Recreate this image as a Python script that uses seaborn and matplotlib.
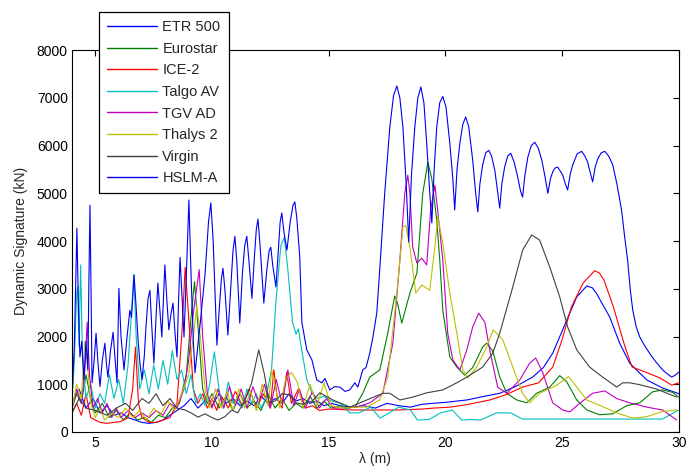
import matplotlib
matplotlib.use("Agg")
import matplotlib.pyplot as plt
from matplotlib.lines import Line2D
import pandas as pd
import seaborn as sns

sns.set_theme(style="white")
plt.rcParams["font.family"] = ["Liberation Sans", "DejaVu Sans"]

names = ["ETR 500", "Eurostar", "ICE-2", "Talgo AV", "TGV AD", "Thalys 2", "Virgin", "HSLM-A"]
colors = ["#0000ff", "#008000", "#ff0000", "#00bfbf", "#bf00bf", "#bfbf00", "#404040", "#0000ee"]
x_ticks = [5, 10, 15, 20, 25, 30]
y_ticks = [0, 1000, 2000, 3000, 4000, 5000, 6000, 7000, 8000]

etr_x = [4.0, 4.3, 4.6, 4.9, 5.2, 5.5, 5.8, 6.1, 6.4, 6.7, 7.0, 7.3, 7.6, 7.9, 8.2, 8.5, 8.8, 9.1, 9.4, 9.7,
         10.0, 10.3, 10.6, 10.9, 11.2, 11.5, 11.8, 12.1, 12.4, 12.7, 13.0, 13.3, 13.6, 13.9, 14.2, 14.5, 14.8,
         15.1, 15.5, 16.0, 16.5, 17.0, 17.5, 18.0, 18.5, 19.0, 19.46, 20.0, 20.92, 21.5, 22.33, 23.0, 23.74,
         24.2, 24.6, 25.2, 25.63, 26.06, 26.3, 26.48, 27.04, 27.47, 27.9, 28.63, 29.31, 29.91, 30.0]
etr_y = [600, 900, 500, 700, 400, 550, 350, 400, 300, 250, 200, 180, 200, 250, 350, 450, 550, 700, 500, 650,
         550, 800, 600, 700, 550, 650, 550, 750, 600, 700, 600, 800, 650, 700, 600, 650, 550,
         600, 550, 520, 550, 500, 600, 550, 520, 580, 600, 620, 670, 730, 810, 950, 1150,
         1350, 1650, 2340, 2830, 3060, 3020, 2900, 2410, 1860, 1440, 1090, 920, 820, 800]

euro_x = [4.0, 4.2, 4.4, 4.6, 4.8, 5.0, 5.3, 5.6, 5.9, 6.2, 6.5, 6.8, 7.1, 7.4, 7.7, 8.0, 8.3, 8.6, 8.9, 9.1,
          9.25, 9.4, 9.6, 9.8, 10.0, 10.3, 10.6, 10.9, 11.2, 11.5, 11.8, 12.1, 12.4, 12.7, 13.0, 13.3, 13.6,
          13.9, 14.2, 14.5, 14.8, 15.1, 15.5, 15.8, 16.12, 16.46, 16.76, 17.19, 17.53, 17.83, 17.95, 18.13,
          18.48, 18.78, 19.03, 19.25, 19.42, 19.63, 19.76, 19.89, 20.19, 20.49, 20.83, 21.17, 21.6, 21.77,
          22.03, 22.33, 22.63, 23.06, 23.49, 23.91, 24.47, 24.9, 25.2, 25.63, 26.06, 26.61, 27.17, 27.77,
          28.33, 28.88, 29.31, 29.74, 30.0]
euro_y = [500, 800, 600, 1200, 700, 400, 600, 300, 450, 250, 400, 250, 300, 200, 350, 300, 500, 600, 1200, 2400,
          3150, 2200, 900, 600, 800, 500, 750, 450, 800, 500, 650, 450, 800, 500, 700, 450, 600,
          500, 750, 500, 650, 500, 550, 500, 520, 810, 1150, 1300, 2070, 2850, 2700, 2280,
          2910, 3330, 5000, 5650, 5300, 4440, 3600, 2550, 1570, 1360, 1190, 1350, 1780, 1860,
          1700, 1150, 810, 670, 610, 810, 940, 1180, 1050, 670, 460, 360, 380, 550,
          610, 840, 880, 830, 730]

ice_x = [4.0, 4.2, 4.4, 4.6, 4.8, 5.0, 5.2, 5.5, 5.8, 6.1, 6.4, 6.6, 6.72, 6.85, 7.0, 7.3, 7.6, 7.9, 8.2, 8.5,
         8.7, 8.85, 9.0, 9.2, 9.4, 9.6, 9.8, 10.0, 10.2, 10.4, 10.7, 11.0, 11.3, 11.6, 11.9, 12.2, 12.5, 12.65,
         12.8, 13.0, 13.2, 13.4, 13.7, 14.0, 14.3, 14.6, 15.0, 15.5, 16.0, 17.0, 18.0, 19.0, 19.5, 20.2, 20.9,
         21.9, 22.6, 23.3, 24.0, 24.6, 25.0, 25.4, 25.9, 26.4, 26.6, 26.8, 27.2, 27.7, 28.0, 28.6, 29.2, 29.7, 30.0]
ice_y = [400, 600, 350, 800, 300, 250, 200, 180, 200, 220, 300, 900, 1780, 600, 300, 200, 200, 250, 300, 600,
         2000, 3450, 2400, 900, 600, 800, 500, 700, 450, 750, 500, 850, 550, 900, 500, 800, 500, 1300,
         700, 500, 1250, 600, 900, 500, 550, 450, 480, 470, 460, 460, 460, 480, 500, 520, 570,
         670, 780, 940, 1030, 1360, 1930, 2620, 3120, 3380, 3330, 3180, 2620, 1780, 1360, 1250, 1130, 980, 1030]

talgo_x = [4.0, 4.1, 4.2, 4.25, 4.3, 4.37, 4.45, 4.6, 4.8, 5.0, 5.2, 5.4, 5.6, 5.8, 6.0, 6.2, 6.4, 6.55, 6.65,
           6.75, 6.9, 7.1, 7.3, 7.5, 7.7, 7.9, 8.1, 8.3, 8.5, 8.7, 8.9, 9.1, 9.3, 9.5, 9.7, 9.9, 10.1, 10.3,
           10.5, 10.7, 10.9, 11.1, 11.3, 11.5, 11.7, 11.9, 12.1, 12.3, 12.55, 12.75, 12.95, 13.1, 13.25, 13.45,
           13.6, 13.7, 13.85, 14.06, 14.3, 14.55, 14.8, 15.1, 15.5, 15.9, 16.3, 16.8, 17.2, 17.6, 18.0, 18.5,
           18.8, 19.3, 19.8, 20.3, 20.7, 21.1, 21.5, 22.2, 22.8, 23.3, 24.0, 26.0, 28.0, 29.3, 30.0]
talgo_y = [600, 1500, 2900, 3050, 1800, 3500, 1500, 700, 1000, 500, 800, 600, 1200, 700, 1100, 600, 1400, 2500, 3300,
           2000, 900, 1300, 800, 1400, 900, 1500, 1000, 1700, 1100, 1300, 800, 1200, 600, 800, 550, 1000, 1680, 900,
           500, 1050, 600, 700, 500, 900, 600, 800, 500, 700, 1300, 2800, 3900, 4080, 3400, 2300,
           2050, 2160, 1700, 1100, 800, 700, 750, 650, 600, 400, 400, 520, 290, 400, 520, 460,
           250, 260, 400, 460, 250, 260, 250, 400, 400, 270, 270, 270, 270, 270, 460]

tgv_x = [4.0, 4.2, 4.4, 4.55, 4.65, 4.75, 4.9, 5.1, 5.3, 5.5, 5.7, 5.9, 6.1, 6.4, 6.7, 7.0, 7.3, 7.6, 7.9, 8.2,
         8.5, 8.8, 9.0, 9.2, 9.45, 9.6, 9.8, 10.0, 10.25, 10.5, 10.75, 11.0, 11.25, 11.5, 11.75, 12.0, 12.25,
         12.5, 12.75, 13.0, 13.25, 13.5, 13.75, 14.0, 14.3, 14.6, 14.9, 15.2, 15.6, 16.2, 16.76, 17.32, 17.75,
         18.05, 18.26, 18.39, 18.48, 18.6, 18.78, 18.99, 19.2, 19.37, 19.55, 19.67, 19.89, 20.1, 20.32, 20.62,
         20.92, 21.17, 21.43, 21.69, 21.9, 22.24, 22.63, 23.19, 23.61, 23.87, 24.17, 24.6, 25.03, 25.33, 25.76,
         26.31, 26.83, 27.34, 27.9, 28.63, 29.31, 29.91]
tgv_y = [500, 900, 600, 1300, 2300, 1200, 500, 700, 400, 600, 300, 500, 300, 450, 300, 400, 300, 450, 350, 600,
         500, 900, 1500, 2500, 3400, 2000, 800, 500, 900, 500, 950, 550, 900, 500, 950, 600, 1000,
         500, 1100, 600, 1300, 550, 900, 500, 850, 500, 700, 500, 500, 520, 610, 810, 1860,
         3600, 5000, 5380, 5000, 3870, 3540, 3640, 3500, 4650, 5170, 4650, 3600, 2070, 1510, 1300,
         1720, 2200, 2490, 2300, 1720, 940, 810, 1090, 1440, 1550, 1250, 610, 460, 420, 600,
         810, 860, 700, 610, 520, 460, 250]

thalys_x = [4.0, 4.2, 4.4, 4.55, 4.65, 4.8, 5.0, 5.2, 5.4, 5.7, 6.0, 6.3, 6.6, 6.9, 7.2, 7.5, 7.8, 8.1, 8.4, 8.7,
            9.0, 9.2, 9.35, 9.5, 9.7, 9.9, 10.15, 10.4, 10.65, 10.9, 11.15, 11.4, 11.65, 11.9, 12.15, 12.4,
            12.56, 12.9, 13.15, 13.4, 13.65, 13.9, 14.2, 14.5, 14.8, 15.1, 15.6, 16.1, 16.63, 17.19, 17.53,
            17.92, 18.18, 18.3, 18.48, 18.73, 18.99, 19.33, 19.55, 19.67, 19.89, 20.19, 20.49, 20.75, 20.96,
            21.34, 21.77, 22.05, 22.46, 22.89, 23.31, 23.61, 24.04, 24.77, 25.28, 25.63, 26.06, 26.61, 27.34,
            28.03, 28.63, 29.31, 29.91]
thalys_y = [500, 1000, 700, 1900, 1500, 600, 300, 500, 250, 400, 300, 500, 300, 450, 250, 500, 350, 650, 450, 800,
            1200, 2000, 2650, 2000, 900, 500, 900, 500, 850, 450, 900, 500, 850, 450, 1000, 550,
            1300, 500, 1100, 1250, 1050, 500, 1000, 550, 1030, 550, 500, 520, 520, 670, 1150,
            2910, 4290, 4330, 3870, 2910, 3080, 2970, 3870, 4520, 3950, 2910, 2070, 1300, 1130,
            1360, 1780, 2140, 1930, 1360, 810, 610, 810, 980, 1160, 940, 670, 560, 400,
            290, 320, 430, 460]

virgin_x = [4.0, 4.3, 4.6, 5.0, 5.5, 5.9, 6.3, 6.6, 7.0, 7.3, 7.6, 7.9, 8.2, 8.5, 8.84, 9.1, 9.4, 9.7, 10.0,
            10.25, 10.55, 10.85, 11.1, 11.4, 11.7, 12.0, 12.25, 12.45, 12.7, 13.0, 13.3, 13.6, 13.9, 14.3, 14.62,
            15.18, 15.91, 16.63, 17.32, 17.62, 18.05, 18.6, 19.2, 19.89, 20.49, 20.92, 21.6, 22.03, 22.33, 22.89,
            23.31, 23.7, 24.04, 24.47, 24.9, 25.24, 25.63, 26.18, 26.74, 27.34, 27.6, 27.9, 28.33, 29.05, 29.91]
virgin_y = [400, 700, 500, 450, 350, 500, 600, 450, 700, 600, 800, 550, 700, 500, 460, 400, 310, 380, 300,
            250, 320, 460, 400, 650, 1030, 1720, 1200, 610, 650, 800, 780, 610, 580, 650, 820,
            670, 520, 670, 810, 810, 670, 730, 820, 880, 1030, 1150, 1360, 1650, 2070, 3040,
            3810, 4130, 4020, 3460, 2830, 2200, 1720, 1360, 1150, 940, 1030, 1030, 990, 900, 730]

hslm_x = [4.00, 4.10, 4.21, 4.28, 4.34, 4.42, 4.51, 4.60, 4.68, 4.72, 4.77, 4.82, 4.86, 4.95, 5.03, 5.12, 5.20,
          5.30, 5.41, 5.48, 5.54, 5.65, 5.76, 5.85, 5.93, 5.97, 6.01, 6.10, 6.23, 6.36, 6.48, 6.55, 6.66, 6.75,
          6.83, 6.92, 7.00, 7.10, 7.17, 7.26, 7.34, 7.42, 7.51, 7.60, 7.68, 7.76, 7.85, 7.92, 7.98, 8.06, 8.15,
          8.25, 8.33, 8.41, 8.50, 8.57, 8.63, 8.72, 8.80, 8.90, 9.01, 9.10, 9.20, 9.27, 9.50, 9.70, 9.85, 9.95,
          10.05, 10.15, 10.21, 10.30, 10.40, 10.47, 10.55, 10.68, 10.80, 10.90, 10.98, 11.06, 11.19, 11.30,
          11.40, 11.49, 11.58, 11.71, 11.82, 11.90, 11.97, 12.06, 12.22, 12.35, 12.45, 12.52, 12.60, 12.74,
          12.84, 12.92, 12.99, 13.08, 13.21, 13.35, 13.47, 13.55, 13.63, 13.76, 13.85, 14.06, 14.28, 14.49,
          14.71, 14.84, 15.05, 15.25, 15.48, 15.70, 15.90, 16.12, 16.25, 16.46, 16.60, 16.76, 16.90, 17.06,
          17.20, 17.40, 17.62, 17.78, 17.92, 18.05, 18.18, 18.32, 18.43, 18.55, 18.69, 18.82, 18.95, 19.08,
          19.20, 19.32, 19.42, 19.52, 19.63, 19.76, 19.89, 20.03, 20.19, 20.32, 20.40, 20.50, 20.62, 20.75,
          20.87, 21.00, 21.17, 21.30, 21.39, 21.48, 21.60, 21.73, 21.86, 21.98, 22.12, 22.25, 22.33, 22.42,
          22.54, 22.67, 22.80, 22.95, 23.10, 23.22, 23.31, 23.40, 23.53, 23.68, 23.83, 23.98, 24.13, 24.27,
          24.39, 24.50, 24.60, 24.70, 24.81, 24.92, 25.03, 25.14, 25.24, 25.35, 25.46, 25.65, 25.84, 25.98,
          26.10, 26.20, 26.31, 26.42, 26.53, 26.68, 26.83, 27.00, 27.17, 27.35, 27.55, 27.68, 27.81, 27.92,
          28.03, 28.18, 28.33, 28.55, 28.75, 29.00, 29.31, 29.50, 29.70, 29.85, 30.00]
hslm_y = [730, 1800, 4270, 2500, 1570, 1900, 1100, 1900, 1300, 3000, 4750, 2800, 1030, 1500, 2070, 1400, 950,
          1500, 1860, 1400, 1150, 1700, 2090, 1500, 1030, 2000, 3010, 2000, 1300, 2000, 2550, 2400, 3290, 2600,
          1930, 1400, 1100, 1600, 2200, 2800, 2970, 2200, 1440, 2400, 3120, 2600, 1990, 2800, 3500, 2800, 2140,
          2500, 2700, 2100, 1570, 2800, 3660, 2800, 1990, 3300, 4860, 3300, 1900, 1240, 2300, 3300, 4400, 4800,
          4000, 2600, 1820, 2500, 3200, 3430, 3000, 2030, 3000, 3800, 4100, 3600, 2280, 3300,
          3900, 4100, 3600, 2800, 3700, 4250, 4460, 3900, 2700, 3400, 3800, 3870, 3500, 3040,
          3800, 4400, 4590, 4200, 3810, 4400, 4750, 4820, 4500, 3670, 2300, 1720, 1510, 1090,
          1030, 1120, 880, 950, 940, 850, 880, 1030, 940, 1300, 1350, 1650, 2000, 2490,
          3500, 5000, 6390, 7050, 7250, 7000, 6390, 5200, 3980, 5400, 6390, 7000, 7230, 6900,
          6050, 5100, 4380, 5500, 6390, 6900, 7030, 6800, 6050, 5300, 4650, 5500, 6050, 6450,
          6600, 6400, 5700, 5000, 4610, 5200, 5600, 5850, 5900, 5780, 5480, 5000, 4690, 5200,
          5550, 5780, 5840, 5650, 5340, 5050, 4920, 5350, 5750, 6000, 6070, 5950, 5700, 5350,
          5000, 5300, 5450, 5530, 5550, 5470, 5380, 5200, 5070, 5400, 5600, 5830, 5880, 5780,
          5650, 5450, 5240, 5550, 5720, 5850, 5880, 5780, 5600, 5200, 4650, 4100, 3600, 3000,
          2550, 2200, 1990, 1800, 1650, 1480, 1300, 1220, 1150, 1190, 1250]

series = [
    ("ETR 500", etr_x, etr_y),
    ("Eurostar", euro_x, euro_y),
    ("ICE-2", ice_x, ice_y),
    ("Talgo AV", talgo_x, talgo_y),
    ("TGV AD", tgv_x, tgv_y),
    ("Thalys 2", thalys_x, thalys_y),
    ("Virgin", virgin_x, virgin_y),
    ("HSLM-A", hslm_x, hslm_y),
]
df = pd.concat(
    [pd.DataFrame({"lam": x, "sig": y, "train": n}) for n, x, y in series],
    ignore_index=True,
)
palette = dict(zip(names, colors))

fig = plt.figure(figsize=(6.99, 4.69), dpi=100)
ax = fig.add_axes([0.103, 0.079, 0.868, 0.814])
sns.lineplot(data=df, x="lam", y="sig", hue="train", hue_order=names, palette=palette,
             estimator=None, sort=False, linewidth=0.8, legend=False, ax=ax)

ax.set_xlim(4, 30)
ax.set_ylim(0, 8000)
ax.set_xticks(x_ticks)
ax.set_yticks(y_ticks)
ax.set_xticklabels([str(t) for t in x_ticks])
ax.set_yticklabels([str(t) for t in y_ticks])
ax.tick_params(direction="in", top=True, right=True, length=4, width=0.8,
               labelsize=10, colors="black", pad=3)
for s in ax.spines.values():
    s.set_color("black")
    s.set_linewidth(0.8)
ax.set_xlabel("λ (m)", fontsize=10, labelpad=1)
ax.set_ylabel("Dynamic Signature (kN)", fontsize=10, labelpad=6)
ax.set_facecolor("white")
fig.patch.set_facecolor("white")

handles = [Line2D([0], [0], color=c, lw=1.0) for c in colors]
leg = fig.legend(handles, names, loc="upper left", bbox_to_anchor=(0.1416, 0.974),
                 frameon=True, fancybox=False, edgecolor="black", framealpha=1,
                 fontsize=10.5, handlelength=3.4, labelspacing=0.52, borderpad=0.55,
                 handletextpad=0.4, borderaxespad=0)
leg.get_frame().set_linewidth(0.9)

fig.savefig("out.png", dpi=100)
